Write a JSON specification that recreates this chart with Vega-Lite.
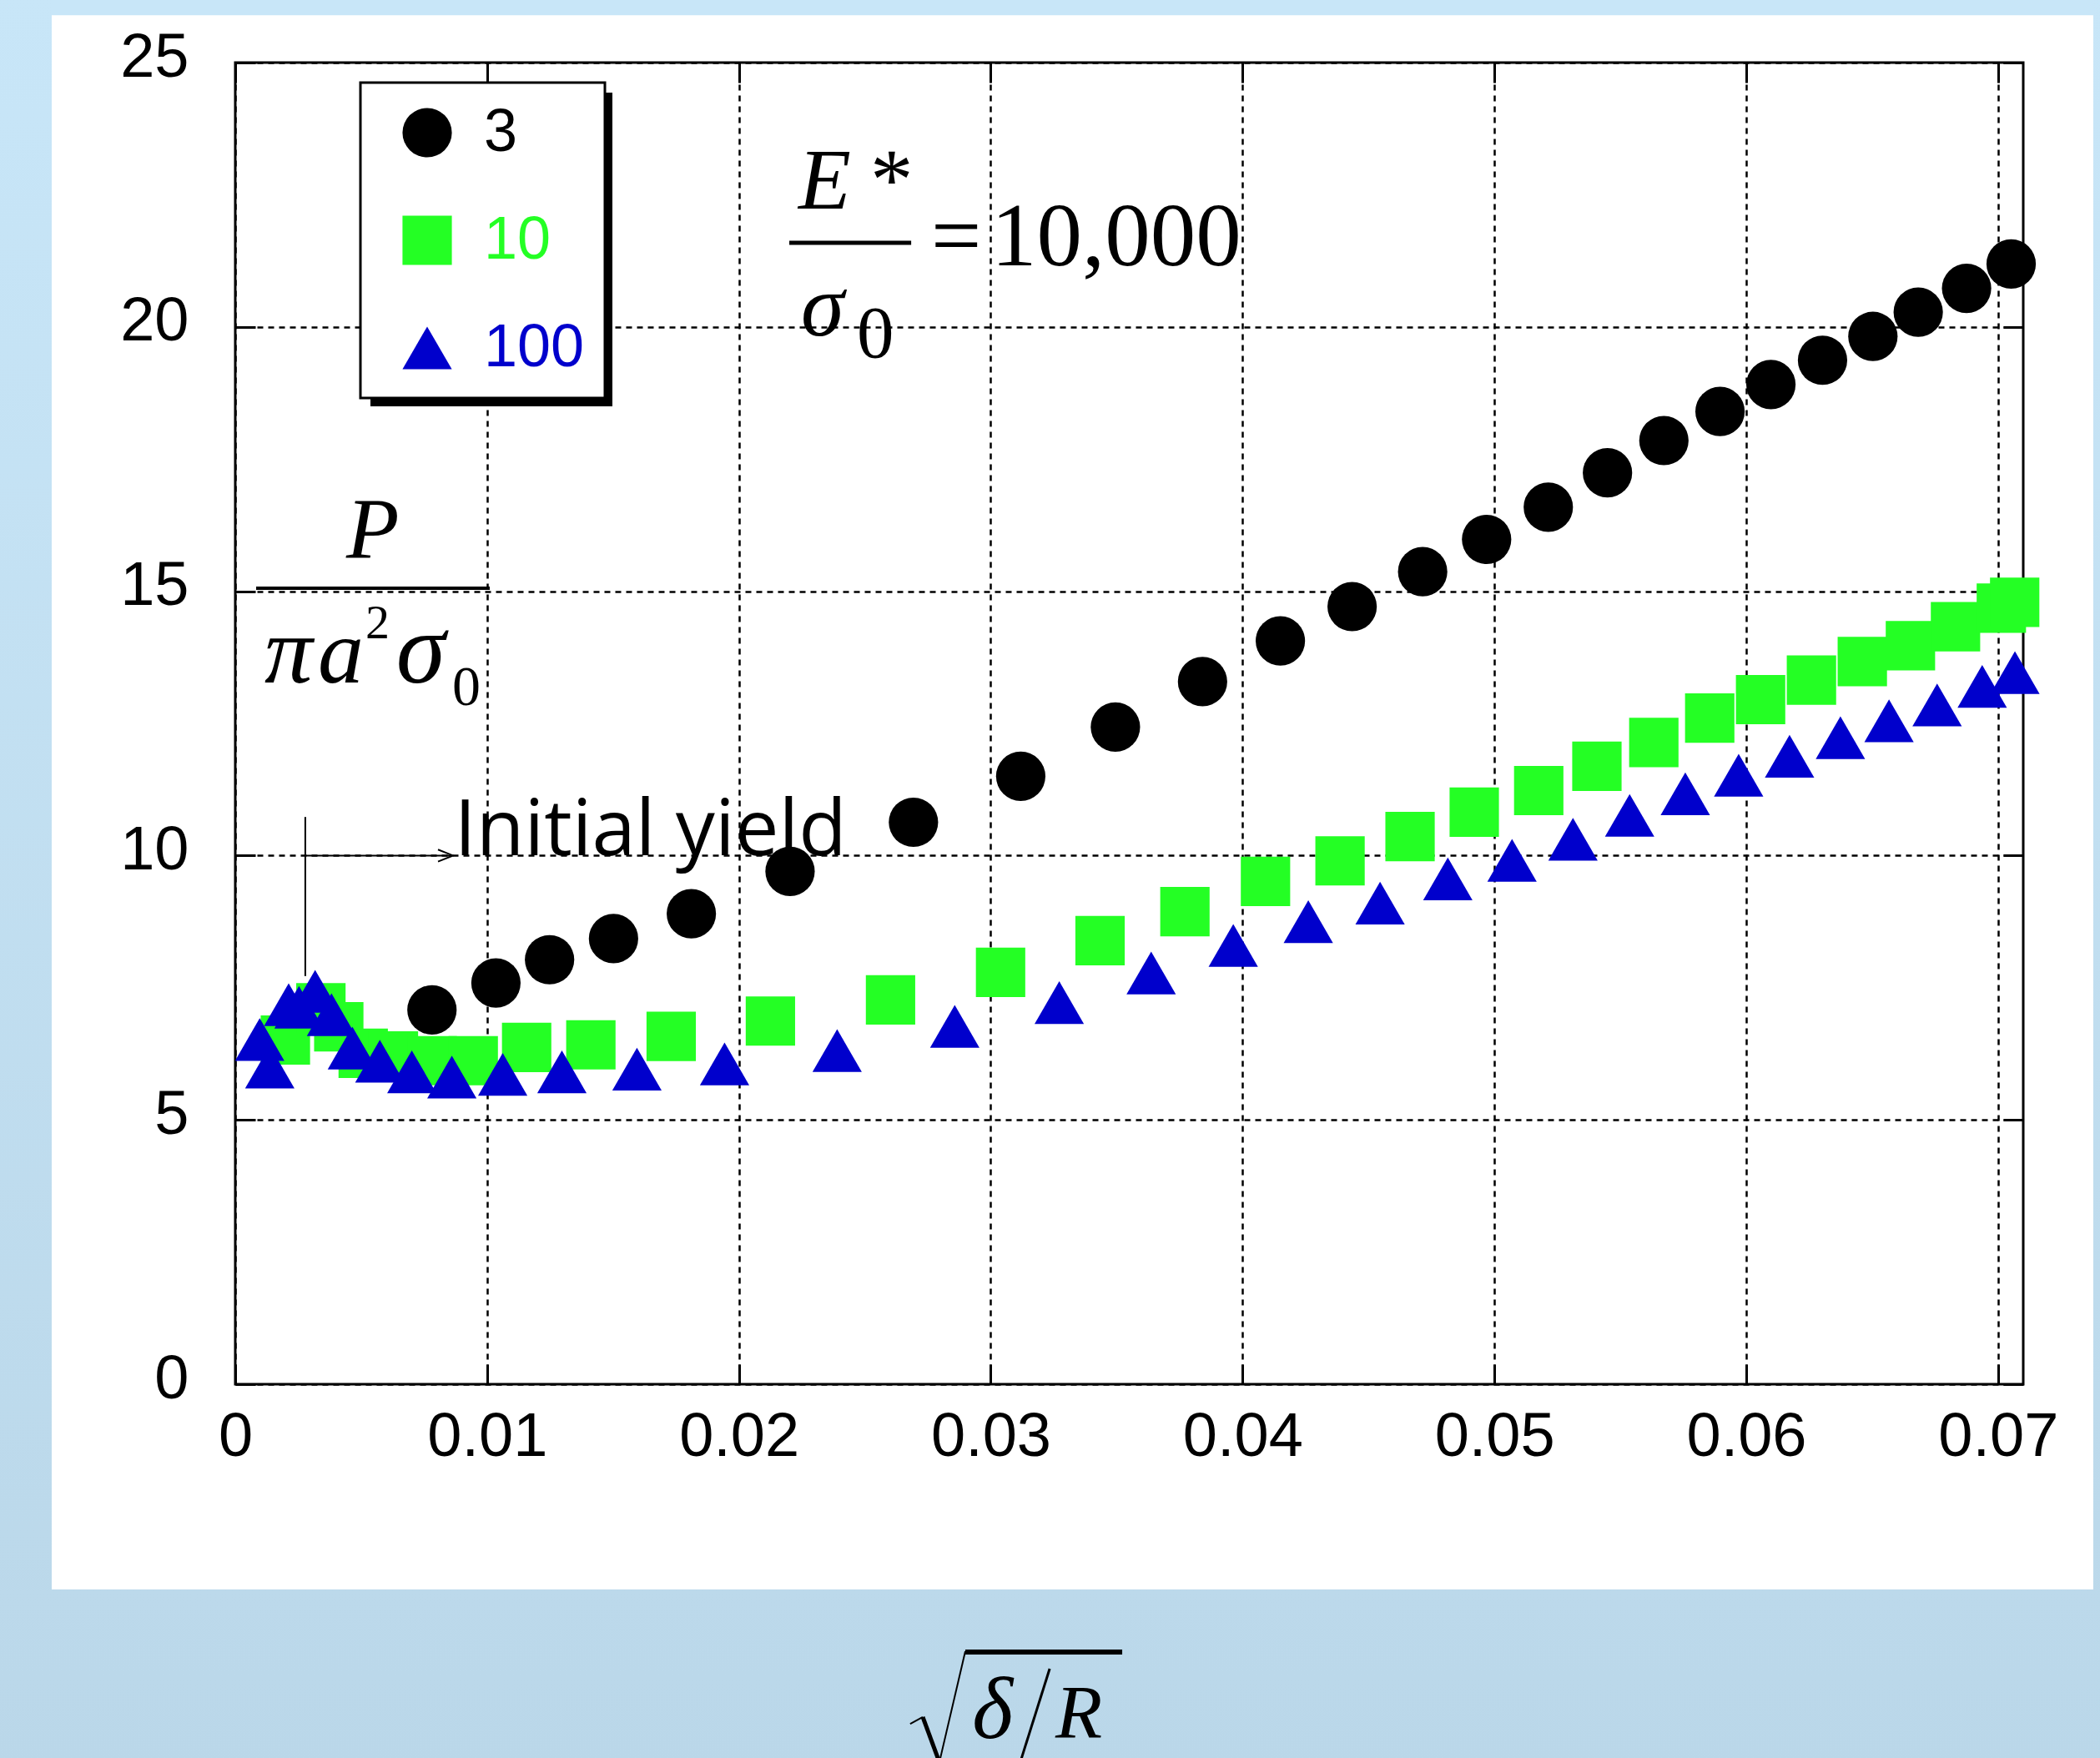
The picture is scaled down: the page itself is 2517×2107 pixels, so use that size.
{
  "$schema": "https://vega.github.io/schema/vega-lite/v6.json",
  "width": 2143,
  "height": 1584,
  "autosize": {"type": "none"},
  "padding": {"left": 282, "top": 75, "right": 92, "bottom": 448},
  "background": "white",
  "config": {
    "view": {"stroke": "black", "strokeWidth": 3},
    "axis": {"labelFont": "Liberation Sans", "labelColor": "black"},
    "legend": {"strokeWidth": 3}
  },
  "resolve": {"axis": {"x": "independent", "y": "independent"}},
  "layer": [
    {
      "data": {"values": [{}]},
      "mark": {"type": "rect", "fill": "#c8e6f8"},
      "encoding": {
        "x": {"datum": -0.0095, "type": "quantitative", "scale": {"domain": [0, 0.071], "nice": false, "zero": false}, "axis": null},
        "x2": {"datum": 0.0745},
        "y": {"datum": 26.3, "type": "quantitative", "scale": {"domain": [0, 25], "nice": false}, "axis": null},
        "y2": {"datum": 25.896}
      }
    },
    {
      "data": {"values": [{}]},
      "mark": {"type": "rect", "fill": {"gradient": "linear", "x1": 0, "y1": 0, "x2": 0, "y2": 1, "stops": [{"offset": 0, "color": "#c8e6f8"}, {"offset": 1, "color": "#bad7e9"}]}},
      "encoding": {
        "x": {"datum": -0.0095, "type": "quantitative", "axis": null},
        "x2": {"datum": -0.00729},
        "y": {"datum": 26.3, "type": "quantitative", "axis": null},
        "y2": {"datum": -7.2}
      }
    },
    {
      "data": {"values": [{}]},
      "mark": {"type": "rect", "fill": {"gradient": "linear", "x1": 0, "y1": 0, "x2": 0, "y2": 1, "stops": [{"offset": 0, "color": "#c8e6f8"}, {"offset": 1, "color": "#bad7e9"}]}},
      "encoding": {
        "x": {"datum": 0.07378, "type": "quantitative", "axis": null},
        "x2": {"datum": 0.0745},
        "y": {"datum": 26.3, "type": "quantitative", "axis": null},
        "y2": {"datum": -7.2}
      }
    },
    {
      "data": {"values": [{}]},
      "mark": {"type": "rect", "fill": {"gradient": "linear", "x1": 0, "y1": 0, "x2": 0, "y2": 1, "stops": [{"offset": 0, "color": "#bcd9eb"}, {"offset": 1, "color": "#bad7e9"}]}},
      "encoding": {
        "x": {"datum": -0.0095, "type": "quantitative", "axis": null},
        "x2": {"datum": 0.0745},
        "y": {"datum": -3.882, "type": "quantitative", "axis": null},
        "y2": {"datum": -7.2}
      }
    },
    {
      "data": {"values": [{}]},
      "mark": {"type": "rect", "fill": "black"},
      "encoding": {
        "x": {"datum": 0.005367, "type": "quantitative", "axis": {"orient": "top", "values": [0, 0.01, 0.02, 0.03, 0.04, 0.05, 0.06, 0.07], "labels": false, "grid": false, "domain": false, "ticks": true, "tickSize": -24, "tickColor": "black", "tickWidth": 3, "title": null}},
        "x2": {"datum": 0.014975},
        "y": {"datum": 24.432, "type": "quantitative", "axis": {"orient": "right", "values": [0, 5, 10, 15, 20, 25], "labels": false, "grid": false, "domain": false, "ticks": true, "tickSize": -24, "tickColor": "black", "tickWidth": 3, "title": null}},
        "y2": {"datum": 18.497}
      }
    },
    {
      "data": {"values": [
        {"s": "3", "x": 0.00781, "y": 7.08},
        {"s": "3", "x": 0.01035, "y": 7.59},
        {"s": "3", "x": 0.01248, "y": 8.03},
        {"s": "3", "x": 0.01502, "y": 8.43},
        {"s": "3", "x": 0.01811, "y": 8.9},
        {"s": "3", "x": 0.02203, "y": 9.7},
        {"s": "3", "x": 0.02693, "y": 10.63},
        {"s": "3", "x": 0.03119, "y": 11.5},
        {"s": "3", "x": 0.03495, "y": 12.43},
        {"s": "3", "x": 0.03841, "y": 13.29},
        {"s": "3", "x": 0.0415, "y": 14.06},
        {"s": "3", "x": 0.04435, "y": 14.71},
        {"s": "3", "x": 0.04715, "y": 15.37},
        {"s": "3", "x": 0.04969, "y": 15.98},
        {"s": "3", "x": 0.05214, "y": 16.59},
        {"s": "3", "x": 0.05449, "y": 17.24},
        {"s": "3", "x": 0.05673, "y": 17.85},
        {"s": "3", "x": 0.05896, "y": 18.4},
        {"s": "3", "x": 0.06098, "y": 18.91},
        {"s": "3", "x": 0.06303, "y": 19.37},
        {"s": "3", "x": 0.06503, "y": 19.82},
        {"s": "3", "x": 0.06683, "y": 20.28},
        {"s": "3", "x": 0.06875, "y": 20.73},
        {"s": "3", "x": 0.07052, "y": 21.19},
        {"s": "10", "x": 0.00199, "y": 6.51},
        {"s": "10", "x": 0.0034, "y": 7.12},
        {"s": "10", "x": 0.00411, "y": 6.76},
        {"s": "10", "x": 0.00508, "y": 6.26},
        {"s": "10", "x": 0.00628, "y": 6.21},
        {"s": "10", "x": 0.00782, "y": 6.12},
        {"s": "10", "x": 0.00945, "y": 6.12},
        {"s": "10", "x": 0.01157, "y": 6.37},
        {"s": "10", "x": 0.01412, "y": 6.42},
        {"s": "10", "x": 0.01731, "y": 6.58},
        {"s": "10", "x": 0.02125, "y": 6.87},
        {"s": "10", "x": 0.02602, "y": 7.27},
        {"s": "10", "x": 0.03039, "y": 7.79},
        {"s": "10", "x": 0.03434, "y": 8.39},
        {"s": "10", "x": 0.03771, "y": 8.94},
        {"s": "10", "x": 0.04091, "y": 9.51},
        {"s": "10", "x": 0.04387, "y": 9.9},
        {"s": "10", "x": 0.04665, "y": 10.36},
        {"s": "10", "x": 0.0492, "y": 10.82},
        {"s": "10", "x": 0.05176, "y": 11.23},
        {"s": "10", "x": 0.05407, "y": 11.69},
        {"s": "10", "x": 0.05633, "y": 12.14},
        {"s": "10", "x": 0.05855, "y": 12.6},
        {"s": "10", "x": 0.06057, "y": 12.95},
        {"s": "10", "x": 0.06259, "y": 13.32},
        {"s": "10", "x": 0.06461, "y": 13.67},
        {"s": "10", "x": 0.06652, "y": 13.97},
        {"s": "10", "x": 0.06831, "y": 14.33},
        {"s": "10", "x": 0.07013, "y": 14.68},
        {"s": "10", "x": 0.07066, "y": 14.79},
        {"s": "100", "x": 0.00097, "y": 6.52},
        {"s": "100", "x": 0.00137, "y": 6.0},
        {"s": "100", "x": 0.00212, "y": 7.18},
        {"s": "100", "x": 0.00253, "y": 7.13},
        {"s": "100", "x": 0.00317, "y": 7.43},
        {"s": "100", "x": 0.00382, "y": 6.99},
        {"s": "100", "x": 0.00465, "y": 6.36},
        {"s": "100", "x": 0.00574, "y": 6.11},
        {"s": "100", "x": 0.00701, "y": 5.91},
        {"s": "100", "x": 0.0086, "y": 5.81},
        {"s": "100", "x": 0.01062, "y": 5.86},
        {"s": "100", "x": 0.01297, "y": 5.91},
        {"s": "100", "x": 0.01595, "y": 5.96},
        {"s": "100", "x": 0.01943, "y": 6.06},
        {"s": "100", "x": 0.0239, "y": 6.31},
        {"s": "100", "x": 0.02857, "y": 6.77},
        {"s": "100", "x": 0.03272, "y": 7.22},
        {"s": "100", "x": 0.03637, "y": 7.78},
        {"s": "100", "x": 0.03963, "y": 8.3},
        {"s": "100", "x": 0.04261, "y": 8.75},
        {"s": "100", "x": 0.04546, "y": 9.1},
        {"s": "100", "x": 0.04815, "y": 9.56},
        {"s": "100", "x": 0.0507, "y": 9.91},
        {"s": "100", "x": 0.05312, "y": 10.31},
        {"s": "100", "x": 0.05537, "y": 10.76},
        {"s": "100", "x": 0.05758, "y": 11.17},
        {"s": "100", "x": 0.0597, "y": 11.52},
        {"s": "100", "x": 0.06172, "y": 11.88},
        {"s": "100", "x": 0.06374, "y": 12.23},
        {"s": "100", "x": 0.06567, "y": 12.55},
        {"s": "100", "x": 0.06758, "y": 12.85},
        {"s": "100", "x": 0.06937, "y": 13.2},
        {"s": "100", "x": 0.07067, "y": 13.46}
      ]},
      "mark": {"type": "point", "filled": true, "opacity": 1, "size": 3500, "strokeWidth": 0},
      "encoding": {
        "x": {"field": "x", "type": "quantitative", "axis": {"orient": "bottom", "values": [0, 0.01, 0.02, 0.03, 0.04, 0.05, 0.06, 0.07], "labelExpr": "datum.value == 0 ? '0' : format(datum.value, '.2f')", "title": null, "grid": true, "gridColor": "black", "gridDash": [7, 6], "gridWidth": 2.5, "gridOpacity": 1, "domain": false, "ticks": true, "tickSize": -24, "tickColor": "black", "tickWidth": 3, "labelFontSize": 74, "labelPadding": 51, "labelFlush": false, "labelOverlap": false}},
        "y": {"field": "y", "type": "quantitative", "axis": {"orient": "left", "values": [0, 5, 10, 15, 20, 25], "title": null, "grid": true, "gridColor": "black", "gridDash": [7, 6], "gridWidth": 2.5, "gridOpacity": 1, "domain": false, "ticks": true, "tickSize": -24, "tickColor": "black", "tickWidth": 3, "labelFontSize": 74, "labelPadding": 80, "labelOffset": -6, "labelFlush": false, "labelOverlap": false}},
        "color": {"field": "s", "type": "nominal", "scale": {"domain": ["3", "10", "100"], "range": ["#000000", "#24ff24", "#0000cc"]}, "legend": {"orient": "none", "legendX": 150, "legendY": 24, "title": null, "fillColor": "white", "strokeColor": "black", "padding": 24, "symbolSize": 3500, "symbolOffset": 20, "symbolStrokeWidth": 0, "symbolOpacity": 1, "labelOffset": 32, "labelFont": "Liberation Sans", "labelFontSize": 72, "rowPadding": 57, "labelColor": {"expr": "datum.label == '3' ? '#000000' : datum.label == '10' ? '#24ff24' : '#0000cc'"}}},
        "shape": {"field": "s", "type": "nominal", "scale": {"domain": ["3", "10", "100"], "range": ["circle", "square", "triangle-up"]}, "legend": {"orient": "none", "legendX": 150, "legendY": 24, "title": null, "fillColor": "white", "strokeColor": "black", "padding": 24, "symbolSize": 3500, "symbolOffset": 20, "symbolStrokeWidth": 0, "symbolOpacity": 1, "labelOffset": 32, "labelFont": "Liberation Sans", "labelFontSize": 72, "rowPadding": 57, "labelColor": {"expr": "datum.label == '3' ? '#000000' : datum.label == '10' ? '#24ff24' : '#0000cc'"}}}
      }
    },
    {
      "data": {"values": [{}]},
      "mark": {"type": "text", "text": "E", "font": "Liberation Serif", "fontStyle": "italic", "fontSize": 103, "align": "left", "baseline": "alphabetic", "fill": "black"},
      "encoding": {"x": {"datum": 0.02236, "type": "quantitative", "axis": null}, "y": {"datum": 22.24, "type": "quantitative", "axis": null}}
    },
    {
      "data": {"values": [{}]},
      "mark": {"type": "text", "text": "*", "font": "Liberation Serif", "fontSize": 103, "align": "left", "baseline": "alphabetic", "fill": "black"},
      "encoding": {"x": {"datum": 0.02521, "type": "quantitative", "axis": null}, "y": {"datum": 22.24, "type": "quantitative", "axis": null}}
    },
    {
      "data": {"values": [{}]},
      "mark": {"type": "rule", "color": "black", "strokeWidth": 5},
      "encoding": {"x": {"datum": 0.022, "type": "quantitative", "axis": null}, "x2": {"datum": 0.02684}, "y": {"datum": 21.59, "type": "quantitative", "axis": null}}
    },
    {
      "data": {"values": [{}]},
      "mark": {"type": "text", "text": "=", "font": "Liberation Serif", "fontSize": 107, "align": "left", "baseline": "alphabetic", "fill": "black"},
      "encoding": {"x": {"datum": 0.02763, "type": "quantitative", "axis": null}, "y": {"datum": 21.16, "type": "quantitative", "axis": null}}
    },
    {
      "data": {"values": [{}]},
      "mark": {"type": "text", "text": "10,000", "font": "Liberation Serif", "fontSize": 109, "align": "left", "baseline": "alphabetic", "fill": "black"},
      "encoding": {"x": {"datum": 0.03002, "type": "quantitative", "axis": null}, "y": {"datum": 21.16, "type": "quantitative", "axis": null}}
    },
    {
      "data": {"values": [{}]},
      "mark": {"type": "text", "text": "σ", "font": "Liberation Serif", "fontStyle": "italic", "fontSize": 105, "align": "left", "baseline": "alphabetic", "fill": "black"},
      "encoding": {"x": {"datum": 0.02246, "type": "quantitative", "axis": null}, "y": {"datum": 19.84, "type": "quantitative", "axis": null}}
    },
    {
      "data": {"values": [{}]},
      "mark": {"type": "text", "text": "0", "font": "Liberation Serif", "fontSize": 89, "align": "left", "baseline": "alphabetic", "fill": "black"},
      "encoding": {"x": {"datum": 0.02468, "type": "quantitative", "axis": null}, "y": {"datum": 19.43, "type": "quantitative", "axis": null}}
    },
    {
      "data": {"values": [{}]},
      "mark": {"type": "text", "text": "P", "font": "Liberation Serif", "fontStyle": "italic", "fontSize": 104, "align": "left", "baseline": "alphabetic", "fill": "black"},
      "encoding": {"x": {"datum": 0.00441, "type": "quantitative", "axis": null}, "y": {"datum": 15.63, "type": "quantitative", "axis": null}}
    },
    {
      "data": {"values": [{}]},
      "mark": {"type": "rule", "color": "black", "strokeWidth": 4},
      "encoding": {"x": {"datum": 0.000828, "type": "quantitative", "axis": null}, "x2": {"datum": 0.010105}, "y": {"datum": 15.057, "type": "quantitative", "axis": null}}
    },
    {
      "data": {"values": [{}]},
      "mark": {"type": "text", "text": "π", "font": "Liberation Serif", "fontStyle": "italic", "fontSize": 115, "align": "left", "baseline": "alphabetic", "fill": "black"},
      "encoding": {"x": {"datum": 0.00116, "type": "quantitative", "axis": null}, "y": {"datum": 13.27, "type": "quantitative", "axis": null}}
    },
    {
      "data": {"values": [{}]},
      "mark": {"type": "text", "text": "a", "font": "Liberation Serif", "fontStyle": "italic", "fontSize": 110, "align": "left", "baseline": "alphabetic", "fill": "black"},
      "encoding": {"x": {"datum": 0.00328, "type": "quantitative", "axis": null}, "y": {"datum": 13.27, "type": "quantitative", "axis": null}}
    },
    {
      "data": {"values": [{}]},
      "mark": {"type": "text", "text": "2", "font": "Liberation Serif", "fontSize": 58, "align": "left", "baseline": "alphabetic", "fill": "black"},
      "encoding": {"x": {"datum": 0.00517, "type": "quantitative", "axis": null}, "y": {"datum": 14.11, "type": "quantitative", "axis": null}}
    },
    {
      "data": {"values": [{}]},
      "mark": {"type": "text", "text": "σ", "font": "Liberation Serif", "fontStyle": "italic", "fontSize": 120, "align": "left", "baseline": "alphabetic", "fill": "black"},
      "encoding": {"x": {"datum": 0.00639, "type": "quantitative", "axis": null}, "y": {"datum": 13.27, "type": "quantitative", "axis": null}}
    },
    {
      "data": {"values": [{}]},
      "mark": {"type": "text", "text": "0", "font": "Liberation Serif", "fontSize": 68, "align": "left", "baseline": "alphabetic", "fill": "black"},
      "encoding": {"x": {"datum": 0.00861, "type": "quantitative", "axis": null}, "y": {"datum": 12.85, "type": "quantitative", "axis": null}}
    },
    {
      "data": {"values": [{}]},
      "mark": {"type": "text", "text": "Initial yield", "font": "Open Sans", "fontSize": 94, "align": "left", "baseline": "alphabetic", "fill": "black"},
      "encoding": {"x": {"datum": 0.0087, "type": "quantitative", "axis": null}, "y": {"datum": 10.0, "type": "quantitative", "axis": null}}
    },
    {
      "data": {"values": [{}]},
      "mark": {"type": "rule", "color": "black", "strokeWidth": 2},
      "encoding": {"x": {"datum": 0.00278, "type": "quantitative", "axis": null}, "y": {"datum": 10.73, "type": "quantitative", "axis": null}, "y2": {"datum": 7.72}}
    },
    {
      "data": {"values": [{}]},
      "mark": {"type": "rule", "color": "black", "strokeWidth": 2},
      "encoding": {"x": {"datum": 0.00278, "type": "quantitative", "axis": null}, "x2": {"datum": 0.00858}, "y": {"datum": 10.0, "type": "quantitative", "axis": null}}
    },
    {
      "data": {"values": [{}]},
      "mark": {"type": "point", "shape": "M -1 -0.8 L 1 0 L -1 0.8", "filled": false, "stroke": "black", "strokeWidth": 2, "size": 324, "opacity": 1},
      "encoding": {"x": {"datum": 0.008349, "type": "quantitative", "axis": null}, "y": {"datum": 10.0, "type": "quantitative", "axis": null}}
    },
    {
      "data": {"values": [{}]},
      "mark": {"type": "rule", "color": "black", "strokeWidth": 2},
      "encoding": {"x": {"datum": 0.0268, "type": "quantitative", "axis": null}, "x2": {"datum": 0.0273}, "y": {"datum": -6.424, "type": "quantitative", "axis": null}, "y2": {"datum": -6.297}}
    },
    {
      "data": {"values": [{}]},
      "mark": {"type": "rule", "color": "black", "strokeWidth": 5},
      "encoding": {"x": {"datum": 0.0273, "type": "quantitative", "axis": null}, "x2": {"datum": 0.02796}, "y": {"datum": -6.297, "type": "quantitative", "axis": null}, "y2": {"datum": -7.15}}
    },
    {
      "data": {"values": [{}]},
      "mark": {"type": "rule", "color": "black", "strokeWidth": 2},
      "encoding": {"x": {"datum": 0.02796, "type": "quantitative", "axis": null}, "x2": {"datum": 0.02899}, "y": {"datum": -7.15, "type": "quantitative", "axis": null}, "y2": {"datum": -5.051}}
    },
    {
      "data": {"values": [{}]},
      "mark": {"type": "rule", "color": "black", "strokeWidth": 6},
      "encoding": {"x": {"datum": 0.02899, "type": "quantitative", "axis": null}, "x2": {"datum": 0.03522}, "y": {"datum": -5.066, "type": "quantitative", "axis": null}}
    },
    {
      "data": {"values": [{}]},
      "mark": {"type": "text", "text": "δ", "font": "Liberation Serif", "fontStyle": "italic", "fontSize": 105, "align": "left", "baseline": "alphabetic", "fill": "black"},
      "encoding": {"x": {"datum": 0.02926, "type": "quantitative", "axis": null}, "y": {"datum": -6.69, "type": "quantitative", "axis": null}}
    },
    {
      "data": {"values": [{}]},
      "mark": {"type": "rule", "color": "black", "strokeWidth": 3},
      "encoding": {"x": {"datum": 0.03234, "type": "quantitative", "axis": null}, "x2": {"datum": 0.03114}, "y": {"datum": -5.382, "type": "quantitative", "axis": null}, "y2": {"datum": -7.197}}
    },
    {
      "data": {"values": [{}]},
      "mark": {"type": "text", "text": "R", "font": "Liberation Serif", "fontStyle": "italic", "fontSize": 92, "align": "left", "baseline": "alphabetic", "fill": "black"},
      "encoding": {"x": {"datum": 0.03257, "type": "quantitative", "axis": null}, "y": {"datum": -6.69, "type": "quantitative", "axis": null}}
    }
  ]
}
